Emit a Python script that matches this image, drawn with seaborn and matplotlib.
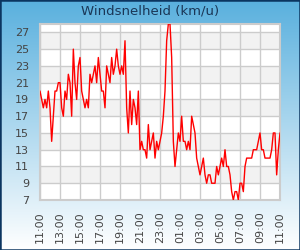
import matplotlib

matplotlib.use("Agg")

import matplotlib.pyplot as plt
import numpy as np
import pandas as pd
import seaborn as sns
from matplotlib.patches import Rectangle

TITLE = "Windsnelheid (km/u)"

# 10-minute readings from 11:00 to 11:00 the next day
WIND = [
    20, 19, 18, 19, 18, 20, 18, 14, 17, 20, 20, 21, 21, 18, 17, 20, 19, 22, 21, 17,
    25, 21, 19, 23, 24, 20, 19, 18, 19, 18, 22, 21, 22, 23, 21, 24, 22, 20, 20, 18,
    23, 22, 21, 24, 22, 23, 25, 23, 22, 23, 22, 26, 18, 15, 20, 16, 19, 18, 16, 20,
    13, 14, 13, 13, 12, 16, 13, 14, 15, 12, 14, 13, 14, 15, 17, 20, 26, 28, 28, 24,
    14, 11, 13, 15, 14, 17, 14, 14, 13, 14, 13, 17, 16, 15, 12, 11, 10, 11, 12, 10,
    9, 10, 10, 9, 9, 9, 11, 10, 11, 12, 11, 13, 11, 11, 10, 8, 7, 8, 8, 7,
    9, 9, 8, 11, 12, 12, 12, 12, 13, 13, 13, 14, 15, 13, 13, 12, 12, 12, 12, 13,
    15, 15, 10, 13, 15,
]
TICK_LABELS = ["11:00", "13:00", "15:00", "17:00", "19:00", "21:00", "23:00",
               "01:00", "03:00", "05:00", "07:00", "09:00", "11:00"]
Y_TICKS = [7, 9, 11, 13, 15, 17, 19, 21, 23, 25, 27]
GRAY_BANDS = [(9, 11), (13, 15), (17, 19), (21, 23), (25, 27)]

df = pd.DataFrame({"hour": np.arange(len(WIND)) / 6.0, "wind": WIND})

sns.set_theme(style="white")
plt.rcParams["font.family"] = ["DejaVu Sans"]

fig = plt.figure(figsize=(3.0, 2.5), dpi=100)

# gradient background with dark border
bg = fig.add_axes([0, 0, 1, 1], zorder=0)
top = np.array([0.35, 0.69, 0.87])
bottom = np.array([1.0, 1.0, 1.0])
t = np.linspace(0, 1, 256)[:, None]
grad = top * (1 - t) + bottom * t
grad = np.repeat(grad[:, None, :], 2, axis=1)
bg.imshow(grad, aspect="auto", extent=[0, 1, 0, 1], origin="upper")
bg.add_patch(Rectangle((0, 0), 1, 1, transform=bg.transAxes, fill=False,
                       edgecolor="#0b3560", linewidth=1.8))
bg.set_axis_off()

fig.text(0.5, 0.955, TITLE, ha="center", va="center", fontsize=9.5, color="#1a3656")

ax = fig.add_axes([40 / 300, 50 / 250, 240 / 300, 176 / 250], zorder=1)
ax.set_facecolor("white")
for lo, hi in GRAY_BANDS:
    ax.axhspan(lo, hi, color="#f2f2f2", zorder=0, linewidth=0)

sns.lineplot(data=df, x="hour", y="wind", color="red", linewidth=1.0, ax=ax, zorder=3)

ax.set_xlim(0, 24)
ax.set_ylim(7, 28)
ax.set_xticks(np.arange(0, 25, 2))
ax.set_xticklabels(TICK_LABELS, rotation=90)
ax.set_yticks(Y_TICKS)
ax.grid(True, color="#cccccc", linewidth=1.0, zorder=1)
ax.set_axisbelow(True)
ax.tick_params(length=0, labelsize=8, colors="#444444")
ax.tick_params(axis="y", pad=8)
ax.tick_params(axis="x", pad=8)
ax.set_xlabel("")
ax.set_ylabel("")
for s in ax.spines.values():
    s.set_color("#cccccc")
    s.set_linewidth(1.5)

fig.savefig("out.png", dpi=100)
